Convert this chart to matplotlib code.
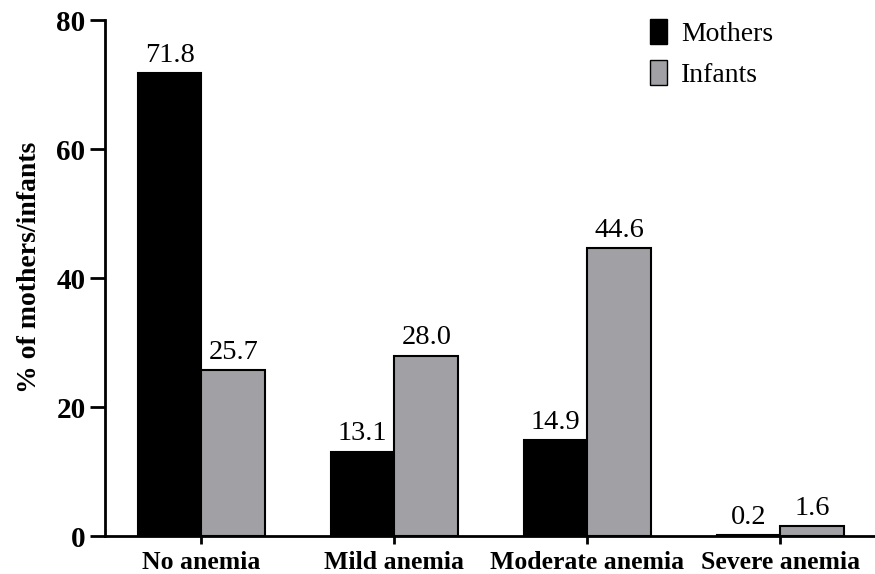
import numpy as np
import matplotlib.pyplot as plt
from matplotlib.patches import Patch

plt.rcParams['font.family'] = ['Liberation Serif', 'DejaVu Serif']

categories = ['No anemia', 'Mild anemia', 'Moderate anemia', 'Severe anemia']
mothers = [71.8, 13.1, 14.9, 0.2]
infants = [25.7, 28.0, 44.6, 1.6]

c_mothers = 'black'
c_infants = '#a0a0a5'

fig = plt.figure(figsize=(8.75, 5.74), dpi=100)
ax = fig.add_axes([0.12, 0.066, 0.88, 0.899])

x = np.arange(len(categories))
w = 0.33
ax.bar(x - w/2, mothers, w, color=c_mothers, edgecolor='black', linewidth=1.5)
ax.bar(x + w/2, infants, w, color=c_infants, edgecolor='black', linewidth=1.5)

for i in range(len(categories)):
    ax.text(x[i] - w/2, mothers[i] + 0.8, f'{mothers[i]:.1f}', ha='center', va='bottom', fontsize=20.5)
    ax.text(x[i] + w/2, infants[i] + 0.8, f'{infants[i]:.1f}', ha='center', va='bottom', fontsize=20.5)

ax.set_xlim(-0.5, 3.49)
ax.set_ylim(0, 80)
ax.set_yticks([0, 20, 40, 60, 80])
ax.set_xticks(x)
ax.set_xticklabels(categories, fontsize=18.5, fontweight='bold')
ax.tick_params(axis='y', labelsize=21, width=2, length=11, pad=3)
ax.tick_params(axis='x', width=2, length=6, pad=5)
for lbl in ax.get_yticklabels():
    lbl.set_fontweight('bold')
ax.set_ylabel('% of mothers/infants', fontsize=20, fontweight='bold')
ax.yaxis.set_label_coords(-0.082, 0.52)

ax.spines['top'].set_visible(False)
ax.spines['right'].set_visible(False)
ax.spines['left'].set_linewidth(2)
ax.spines['bottom'].set_linewidth(2)

handles = [Patch(facecolor=c_mothers, edgecolor='black', label='Mothers'),
           Patch(facecolor=c_infants, edgecolor='black', label='Infants')]
ax.legend(handles=handles, loc='upper right', bbox_to_anchor=(0.9, 1.05), frameon=False,
          fontsize=20, handlelength=0.6, handleheight=1.0, handletextpad=0.5, labelspacing=0.45)

fig.savefig('out.png', dpi=100)
